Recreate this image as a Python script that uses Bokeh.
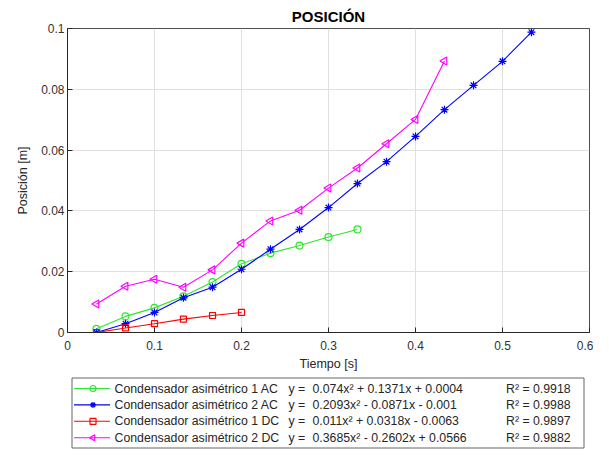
import numpy as np
from bokeh.plotting import figure
from bokeh.layouts import column
from bokeh.models import Range1d, FixedTicker
from bokeh.core.properties import value
from bokeh.embed import file_html
from bokeh.resources import INLINE

# ---------------- data ----------------
t = [0.0333, 0.0667, 0.1, 0.1333, 0.1667, 0.2, 0.2333, 0.2667, 0.3, 0.3333,
     0.3667, 0.4, 0.4333, 0.4667, 0.5, 0.5333]

y_ac1 = [0.0012, 0.0053, 0.0081, 0.0119, 0.0166, 0.0226, 0.0261, 0.0286, 0.0314, 0.0339]
y_ac2 = [0.0000, 0.0029, 0.0066, 0.0114, 0.0149, 0.0208, 0.0274, 0.0339, 0.0411, 0.0490,
         0.0562, 0.0645, 0.0733, 0.0813, 0.0892, 0.0988]
y_dc1 = [0.0000, 0.0015, 0.0029, 0.0044, 0.0056, 0.0066]
y_dc2 = [0.0094, 0.0152, 0.0175, 0.0149, 0.0206, 0.0294, 0.0367, 0.0402, 0.0475, 0.0541,
         0.0621, 0.0701, 0.0893]

names = ["Condensador asimétrico 1 AC", "Condensador asimétrico 2 AC",
         "Condensador asimétrico 1 DC", "Condensador asimétrico 2 DC"]
equations = ["0.074x² + 0.1371x + 0.0004", "0.2093x² - 0.0871x - 0.001",
             "0.011x² + 0.0318x - 0.0063", "0.3685x² - 0.2602x + 0.0566"]
r2 = ["R² = 0.9918", "R² = 0.9988", "R² = 0.9897", "R² = 0.9882"]

x_ticks = [0, 0.1, 0.2, 0.3, 0.4, 0.5, 0.6]
x_tick_labels = ["0", "0.1", "0.2", "0.3", "0.4", "0.5", "0.6"]
y_ticks = [0, 0.02, 0.04, 0.06, 0.08, 0.1]
y_tick_labels = ["0", "0.02", "0.04", "0.06", "0.08", "0.1"]

series = [y_ac1, y_ac2, y_dc1, y_dc2]
colors = ["#2ee62e", "#0000ff", "#ff0000", "#ff00ff"]
markers = ["circle", "asterisk", "square", "triangle"]
angles = [0, 0, 0, np.pi / 2]
msizes = [7, 8, 6, 8]

FONT = "Liberation Sans"
DARK = "#262626"

W = 593
FL, FR = 67, 589          # frame left / right (page px)
H1 = 376                  # main figure height
H2 = 449 - H1             # legend strip height

# ---------------- main plot ----------------
p = figure(width=W, height=H1, x_range=Range1d(0, 0.6), y_range=Range1d(0, 0.1),
           output_backend="svg", toolbar_location=None,
           min_border_left=FL, min_border_right=W - FR, min_border_top=28,
           min_border_bottom=H1 - 332)

p.title.text = "POSICIÓN"
p.title.align = "center"
p.title.text_font = FONT
p.title.text_font_size = "15px"
p.title.text_font_style = "bold"
p.title.text_color = "#000000"
p.title.standoff = 7

p.outline_line_color = "#4d4d4d"
p.outline_line_alpha = 1.0
p.background_fill_color = "white"
p.border_fill_color = "white"

p.xaxis.ticker = FixedTicker(ticks=x_ticks)
p.yaxis.ticker = FixedTicker(ticks=y_ticks)
p.xaxis.major_label_overrides = dict(zip(x_ticks, x_tick_labels))
p.yaxis.major_label_overrides = dict(zip(y_ticks, y_tick_labels))

for ax in (p.xaxis, p.yaxis):
    ax.axis_line_color = DARK
    ax.major_tick_line_color = DARK
    ax.major_tick_in = 5
    ax.major_tick_out = 0
    ax.minor_tick_line_color = None
    ax.major_label_text_font = FONT
    ax.major_label_text_font_size = "12px"
    ax.major_label_text_color = "#333333"
    ax.axis_label_text_font = FONT
    ax.axis_label_text_font_size = "12.5px"
    ax.axis_label_text_font_style = "normal"
    ax.axis_label_text_color = DARK

p.xaxis.axis_label = "Tiempo [s]"
p.yaxis.axis_label = "Posición [m]"
p.xaxis.major_label_standoff = 8
p.xaxis.axis_label_standoff = 4
p.yaxis.major_label_standoff = 3
p.yaxis.axis_label_standoff = 8

p.grid.grid_line_color = "#e0e0e0"
p.grid.grid_line_width = 1

for ys, c, m, a, s in zip(series, colors, markers, angles, msizes):
    xs = t[:len(ys)]
    p.line(xs, ys, line_color=c, line_width=1.1)
    p.scatter(xs, ys, marker=m, size=s, angle=a, line_color=c, fill_color=None, line_width=1.2)

# ---------------- legend strip (x range in page px, same frame as main plot) ----------------
lg = figure(width=W, height=H2, x_range=Range1d(FL, FR), y_range=Range1d(H1 + H2, H1),
            x_axis_type=None, y_axis_type=None, output_backend="svg", toolbar_location=None,
            min_border_left=FL, min_border_right=W - FR, min_border_top=0,
            min_border_bottom=0, outline_line_color=None)
lg.background_fill_color = "white"
lg.border_fill_color = "white"

box_top, box_bot = H1 + 1.5, H1 + H2 - 1.5
lg.quad(left=[71.5], right=[583.5], top=[box_top], bottom=[box_bot],
        fill_color="white", line_color="#666666", line_width=1)

row_y = [box_top + 10.5 + 16.4 * i for i in range(4)]
for i, (c, m, a) in enumerate(zip(colors, markers, angles)):
    yy = row_y[i]
    lg.line([73.5, 109.5], [yy, yy], line_color=c, line_width=1.1)
    lg.scatter([92.5], [yy], marker=m, size=6, angle=a, line_color=c, fill_color=None, line_width=1.2)

common = dict(text_font=value(FONT), text_font_size="12.3px", text_baseline="middle",
              text_color=DARK, text_align="left")
lg.text(x=[114] * 4, y=row_y, text=names, **common)
lg.text(x=[288] * 4, y=row_y, text=["y ="] * 4, **common)
lg.text(x=[312] * 4, y=row_y, text=equations, **common)
lg.text(x=[505.5] * 4, y=row_y, text=r2, **common)

layout = column(p, lg, spacing=0)
open("out.html", "w").write(file_html(layout, INLINE))
